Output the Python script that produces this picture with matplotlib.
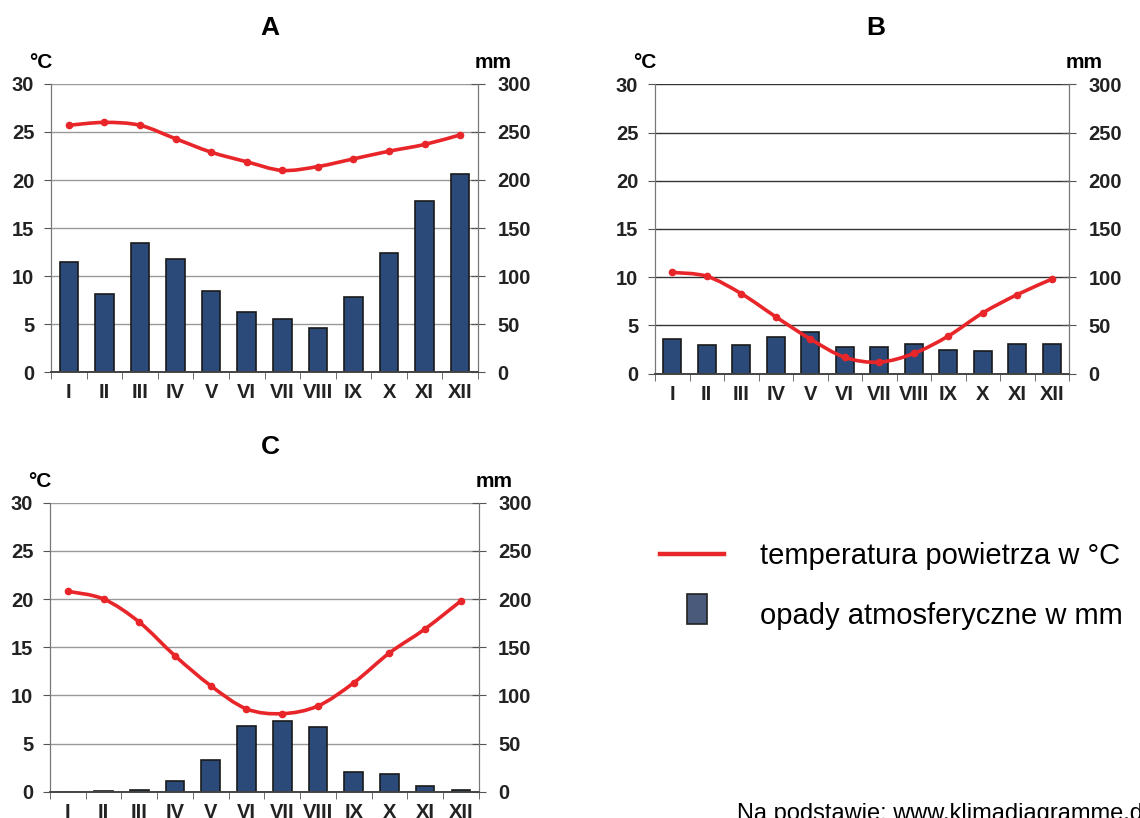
import matplotlib
matplotlib.use("Agg")
import matplotlib.pyplot as plt
import matplotlib.patches as mpatches
from matplotlib.path import Path
from matplotlib.lines import Line2D
from matplotlib.legend_handler import HandlerPatch
import numpy as np

plt.rcParams['font.family'] = ['Liberation Sans', 'DejaVu Sans']

months = ['I', 'II', 'III', 'IV', 'V', 'VI', 'VII', 'VIII', 'IX', 'X', 'XI', 'XII']

temp_a = [25.7, 26.0, 25.7, 24.3, 22.9, 21.9, 21.0, 21.4, 22.2, 23.0, 23.7, 24.7]
prec_a = [115, 81, 134, 118, 84, 62, 55, 46, 78, 124, 178, 206]

temp_b = [10.5, 10.1, 8.3, 5.9, 3.6, 1.7, 1.2, 2.1, 3.9, 6.3, 8.2, 9.8]
prec_b = [36, 30, 30, 38, 43, 28, 28, 31, 25, 24, 31, 31]

temp_c = [20.8, 20.0, 17.6, 14.1, 11.0, 8.6, 8.1, 8.9, 11.3, 14.4, 16.9, 19.8]
prec_c = [0, 1, 2, 11, 33, 68, 73, 67, 20, 18, 6, 2]

red = '#e8262a'
navy = '#2b4a7a'
W, H = 1140, 818


def smooth_path(x, y):
    # Excel-like smoothed line: cubic bezier segments through the points
    x = np.asarray(x, float); y = np.asarray(y, float)
    n = len(x)
    verts = [(x[0], y[0])]
    codes = [Path.MOVETO]
    for i in range(n - 1):
        p0 = i - 1 if i > 0 else i
        p3 = i + 2 if i + 2 < n else i + 1
        c1 = (x[i] + (x[i + 1] - x[p0]) / 6, y[i] + (y[i + 1] - y[p0]) / 6)
        c2 = (x[i + 1] - (x[p3] - x[i]) / 6, y[i + 1] - (y[p3] - y[i]) / 6)
        verts += [c1, c2, (x[i + 1], y[i + 1])]
        codes += [Path.CURVE4] * 3
    return Path(verts, codes)


def climate(rect, temp, prec, title, title_x, gridcol):
    ax = fig.add_axes(rect)
    ax2 = ax.twinx()
    xs = np.arange(12)

    ax2.bar(xs, prec, width=0.52, color=navy, edgecolor='#1a1a1a', linewidth=1.2, zorder=2)
    ax2.set_ylim(0, 300)
    ax2.set_yticks(range(0, 301, 50))
    ax2.yaxis.grid(True, color=gridcol, linewidth=1.0)
    ax2.set_axisbelow(True)

    ax.add_patch(mpatches.PathPatch(smooth_path(xs, temp), fill=False,
                                    edgecolor=red, linewidth=2.6, zorder=3))
    ax.plot(xs, temp, 'o', color=red, markersize=4.5, zorder=4)
    ax.set_ylim(0, 30)
    ax.set_yticks(range(0, 31, 5))
    ax.set_xlim(-0.5, 11.5)
    ax.set_zorder(ax2.get_zorder() + 1)
    ax.patch.set_visible(False)

    ax.set_xticks(xs)
    ax.set_xticklabels(months, fontsize=14.5, fontweight='bold', color='#222222')
    ax.set_xticks(np.arange(-0.5, 12, 1), minor=True)
    ax.tick_params(axis='x', which='major', length=0, pad=8)
    ax.tick_params(axis='x', which='minor', length=5, direction='out', color='#555555')
    ax.tick_params(axis='y', length=5, direction='out', color='#555555', pad=7,
                   labelsize=14.5)
    ax2.tick_params(axis='y', length=10, direction='inout', color='#555555', pad=9,
                    labelsize=14.5)
    for lab in ax.get_yticklabels() + ax2.get_yticklabels():
        lab.set_fontweight('bold')
        lab.set_color('#222222')
    ax2.tick_params(axis='x', which='both', length=0)

    for a in (ax, ax2):
        a.spines['top'].set_visible(False)
        a.spines['left'].set_color('#777777')
        a.spines['right'].set_color('#777777')
        a.spines['bottom'].set_color('#444444')
        a.spines['bottom'].set_linewidth(1.2)

    x0, y0, w, h = rect
    top = (y0 + h) * H
    fig.text(title_x / W, (top + 49) / H, title, ha='center', va='baseline',
             fontsize=19, fontweight='bold')
    fig.text(x0 - 22 / W, (top + 16) / H, '°C', ha='left', va='baseline',
             fontsize=15, fontweight='bold')
    fig.text(x0 + w + 34 / W, (top + 16) / H, 'mm', ha='right', va='baseline',
             fontsize=15, fontweight='bold')
    return ax


fig = plt.figure(figsize=(W / 100, H / 100), dpi=100)

climate([51 / W, 1 - 372 / H, 427 / W, 288 / H], temp_a, prec_a, 'A', 270, '#999999')
climate([655 / W, 1 - 373.7 / H, 414 / W, 289.4 / H], temp_b, prec_b, 'B', 876, '#333333')
climate([50 / W, 1 - 791.7 / H, 428.7 / W, 289 / H], temp_c, prec_c, 'C', 270, '#999999')


def tall_box(legend, orig_handle, xdescent, ydescent, width, height, fontsize):
    # sizes in points: 20 x 30 px box
    return mpatches.Rectangle((-xdescent + width * 0.42, -ydescent + height / 2 - 7.2),
                              14.4, 21.6)


handles = [Line2D([], [], color=red, linewidth=3.2),
           mpatches.Patch(facecolor='#4a5a7a', edgecolor='#222222', linewidth=1.2)]
labels = ['temperatura powietrza w °C', 'opady atmosferyczne w mm']
fig.legend(handles, labels, loc='upper left', bbox_to_anchor=(660 / W, 1 - 542 / H),
           frameon=False, fontsize=21, handlelength=2.2, handletextpad=1.22,
           labelspacing=1.1, borderpad=0, borderaxespad=0,
           handler_map={mpatches.Patch: HandlerPatch(patch_func=tall_box)})

fig.text(737 / W, 1 - 803 / H, 'Na podstawie: www.klimadiagramme.de', ha='left',
         va='top', fontsize=17)

fig.savefig('out.png', dpi=100)
